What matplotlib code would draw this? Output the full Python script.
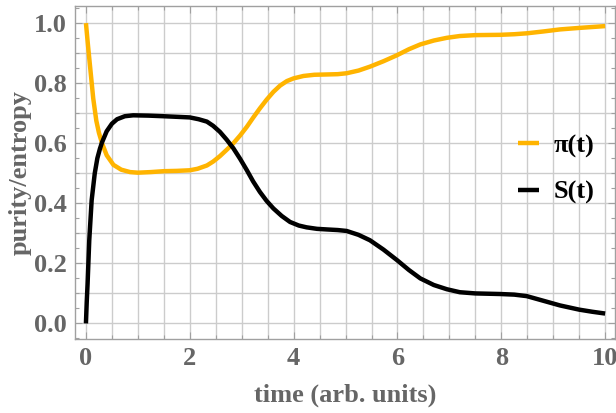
import matplotlib
matplotlib.use("Agg")
import matplotlib.pyplot as plt
import numpy as np
from matplotlib.ticker import MultipleLocator

# ---------------------------------------------------------------------------
# Data
# ---------------------------------------------------------------------------
T_PI = [0, 0.04, 0.08, 0.14, 0.2, 0.25, 0.31, 0.4, 0.53, 0.68, 0.85, 1.0,
        1.25, 1.5, 1.75, 2.0, 2.15, 2.33, 2.45, 2.58, 2.71, 2.84, 2.97, 3.1,
        3.22, 3.35, 3.48, 3.61, 3.74, 3.87, 4.0, 4.19, 4.4, 4.64, 4.85, 5.02,
        5.25, 5.47, 5.73, 5.99, 6.22, 6.44, 6.7, 6.95, 7.2, 7.5, 7.98, 8.25,
        8.49, 8.8, 9.13, 9.5, 9.75, 10.0]
PURITY = [1.0, 0.925, 0.855, 0.75, 0.675, 0.635, 0.60, 0.56, 0.528, 0.512,
          0.504, 0.502, 0.504, 0.507, 0.508, 0.51, 0.515, 0.526, 0.539, 0.557,
          0.578, 0.60, 0.626, 0.655, 0.685, 0.716, 0.745, 0.771, 0.792, 0.807,
          0.816, 0.824, 0.828, 0.829, 0.83, 0.833, 0.842, 0.855, 0.873, 0.893,
          0.913, 0.929, 0.942, 0.951, 0.957, 0.96, 0.961, 0.963, 0.966, 0.972,
          0.979, 0.984, 0.987, 0.99]

T_S = [0, 0.015, 0.032, 0.064, 0.11, 0.17, 0.22, 0.27, 0.31, 0.4, 0.5, 0.6,
       0.75, 0.91, 1.2, 1.49, 1.75, 2.0, 2.17, 2.33, 2.45, 2.58, 2.71, 2.84,
       2.97, 3.1, 3.22, 3.35, 3.48, 3.61, 3.77, 3.93, 4.1, 4.25, 4.45, 4.64,
       4.85, 5.02, 5.25, 5.47, 5.73, 5.99, 6.22, 6.44, 6.7, 6.95, 7.2, 7.5,
       7.98, 8.25, 8.49, 8.8, 9.13, 9.5, 9.75, 10.0]
ENTROPY = [0, 0.07, 0.133, 0.277, 0.41, 0.50, 0.55, 0.582, 0.603, 0.64, 0.665,
           0.68, 0.69, 0.693, 0.692, 0.69, 0.688, 0.686, 0.68, 0.672, 0.658,
           0.638, 0.612, 0.583, 0.548, 0.51, 0.473, 0.438, 0.408, 0.383, 0.358,
           0.338, 0.326, 0.32, 0.315, 0.313, 0.311, 0.308, 0.295, 0.277, 0.246,
           0.211, 0.178, 0.15, 0.128, 0.114, 0.104, 0.1, 0.098, 0.096, 0.091,
           0.076, 0.06, 0.046, 0.039, 0.033]

X_TICKS = [0, 2, 4, 6, 8, 10]
Y_TICKS = [0.0, 0.2, 0.4, 0.6, 0.8, 1.0]

C_PI = "#ffb400"
C_S = "#000000"
C_TEXT = "#666666"
C_FRAME = "#a0a0a0"
C_GRID = "#cccccc"

plt.rcParams["font.family"] = ["Liberation Serif", "DejaVu Serif"]
plt.rcParams["font.weight"] = "bold"

fig = plt.figure(figsize=(6.16, 4.13), dpi=100)
ax = fig.add_axes([0.1218, 0.179, 0.8766, 0.8065])

# grid: every 0.5 in t, every 0.1 in y
for v in np.arange(0, 10.01, 0.5):
    ax.axvline(v, color=C_GRID, lw=1.0, zorder=0)
for v in np.arange(0, 1.01, 0.1):
    ax.axhline(v, color=C_GRID, lw=1.0, zorder=0)

ax.plot(T_PI, PURITY, color=C_PI, lw=3.2, solid_capstyle="butt",
        solid_joinstyle="round", label="π(t)")
ax.plot(T_S, ENTROPY, color=C_S, lw=3.2, solid_capstyle="butt",
        solid_joinstyle="round", label="S(t)")

ax.set_xlim(-0.21, 10.19)
ax.set_ylim(-0.052, 1.057)
ax.set_xticks(X_TICKS)
ax.set_yticks(Y_TICKS)
ax.set_yticklabels([f"{v:.1f}" for v in Y_TICKS])
ax.xaxis.set_minor_locator(MultipleLocator(0.5))
ax.yaxis.set_minor_locator(MultipleLocator(0.05))

for s in ax.spines.values():
    s.set_color(C_FRAME)
    s.set_linewidth(1.0)

ax.tick_params(which="both", direction="in", color=C_FRAME,
               top=True, right=True)
ax.tick_params(which="major", length=5, width=0.8, labelsize=19,
               labelcolor=C_TEXT, pad=6)
ax.tick_params(which="minor", length=3, width=0.8)

ax.set_xlabel("time (arb. units)", fontsize=19, color=C_TEXT, fontweight="bold")
ax.set_ylabel("purity/entropy", fontsize=19, color=C_TEXT, fontweight="bold")
ax.xaxis.set_label_coords(0.5, -0.135)
ax.yaxis.set_label_coords(-0.08, 0.5)

ax.legend(loc="center left", bbox_to_anchor=(0.8, 0.51), frameon=False,
          fontsize=19, handlelength=0.8, handletextpad=0.55, labelspacing=0.85,
          borderaxespad=0)

fig.savefig("out.png", dpi=100)
